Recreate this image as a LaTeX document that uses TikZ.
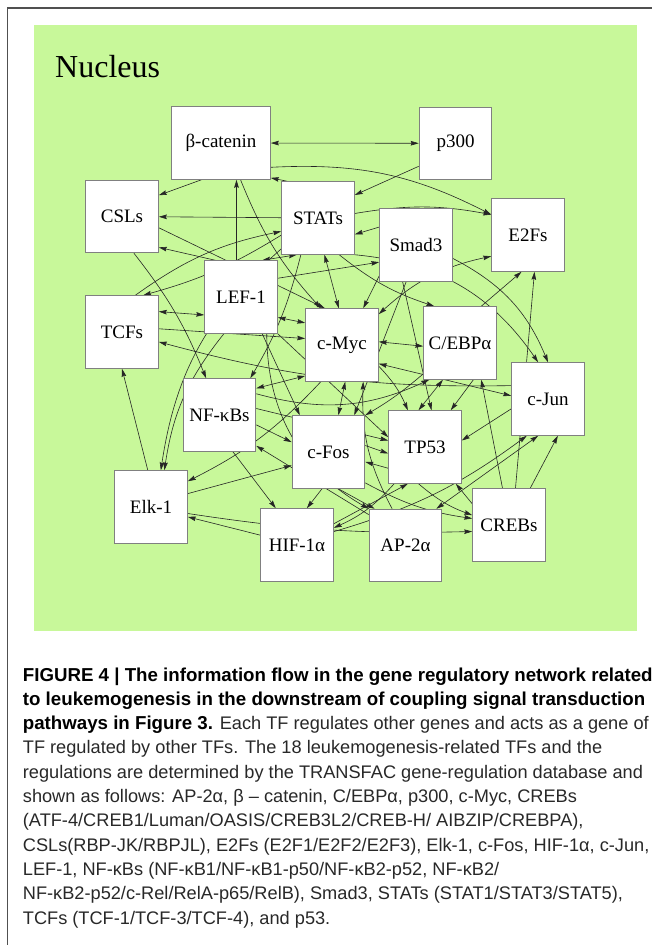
\documentclass[tikz,border=0pt]{standalone}
\usepackage{fontspec}
\setmainfont{Liberation Serif}
\newfontfamily\capfont{Liberation Sans}
\usetikzlibrary{arrows.meta}

\definecolor{nucgreen}{RGB}{200,248,154}
\definecolor{boxgray}{RGB}{128,128,128}
\definecolor{framegray}{RGB}{80,80,80}
\definecolor{capgray}{RGB}{40,40,40}

\pgfdeclarelayer{bg}
\pgfdeclarelayer{links}
\pgfsetlayers{bg,links,main}

\newcommand{\capbold}[1]{{\bfseries\color{black}\fontsize{18.7}{24.3}\selectfont #1}}

\tikzset{
  tf/.style={draw=boxgray, line width=0.9pt, fill=white, minimum width=72.7pt,
    minimum height=72.6pt, inner sep=0pt, font=\fontsize{19}{20}\selectfont},
  reg/.style={draw=black!85, line width=0.6pt, -{Stealth[length=8pt,width=4.6pt,inset=1pt]}},
  dreg/.style={draw=black!85, line width=0.6pt,
    {Stealth[length=8pt,width=4.6pt,inset=1pt]}-{Stealth[length=8pt,width=4.6pt,inset=1pt]}},
}

\begin{document}
\begin{tikzpicture}[x=1pt,y=-1pt]
\useasboundingbox (0,0) rectangle (652,945);

\begin{pgfonlayer}{bg}
\fill[nucgreen] (34,25) rectangle (637,631);
\draw[framegray,line width=1.2pt] (7.5,945) -- (7.5,8) -- (652,8);
\end{pgfonlayer}

\node[anchor=base west, inner sep=0pt, font=\fontsize{32}{32}\selectfont] (nuc) at (55,77) {Nucleus};

% transcription factors
\node[tf, minimum width=98.7pt] (bcat) at (221,143) {β-catenin};
\node[tf] (p300) at (455.5,143.3) {p300};
\node[tf] (csl) at (122,216.5) {CSLs};
\node[tf] (stat) at (318,218) {STATs};
\node[tf] (smad) at (416,245) {Smad3};
\node[tf] (e2f) at (528,235) {E2Fs};
\node[tf] (lef) at (241,297) {LEF-1};
\node[tf] (tcf) at (122,332) {TCFs};
\node[tf] (myc) at (342,345) {c-Myc};
\node[tf] (cebp) at (460,343) {C/EBPα};
\node[tf] (jun) at (548,399) {c-Jun};
\node[tf] (nfkb) at (219.5,415) {NF-κBs};
\node[tf] (fos) at (328.5,452) {c-Fos};
\node[tf] (tp53) at (425,447) {TP53};
\node[tf] (elk) at (151,507) {Elk-1};
\node[tf] (hif) at (297,545) {HIF-1α};
\node[tf] (ap2) at (405.5,545.5) {AP-2α};
\node[tf] (creb) at (509,525) {CREBs};

% regulations
\begin{pgfonlayer}{links}
\draw[dreg] (bcat) -- (p300);
\draw[reg] (bcat.-118) -- (csl.30);
\draw[reg] (bcat.-26) to[bend left=15] (e2f.151);
\draw[reg] (p300.-148) -- (stat.32);
\draw[reg] (stat.130) -- (bcat.-35);
\draw[reg] (stat) -- (csl);
\draw[reg] (stat.7) to[bend left=10] (e2f.151);
\draw[reg] (smad.154) -- (stat.-24);
\draw[reg] (csl.-17) -- (myc.115);
\draw[reg] (bcat.-62) to[bend right=10] (myc.120);
\draw[reg] (lef.97) -- (lef.97 |- bcat.south);
\draw[reg] (csl.-72) to[bend left=8] (nfkb.110);
\draw[reg] (lef.125) -- (csl.-40);
\draw[dreg] (lef.60) -- (stat.-120);
\draw[reg] (stat.-155) to[bend left=8] (tcf.60);
\draw[reg] (tcf.70) to[bend left=12] (stat.-160);
\draw[dreg] (tcf.29) -- (lef.-154);
\draw[dreg] (lef.-29) -- (myc.149);
\draw[reg] (lef.27) -- (smad.-155);
\draw[reg] (lef.-60) -- (fos.128);
\draw[reg] (lef.-45) -- (tp53.165);
\draw[reg] (lef.-55) to[bend right=30] (ap2.135);
\draw[reg] (nfkb.-70) -- (hif.120);
\draw[reg] (nfkb.-15) -- (fos.165);
\draw[dreg] (myc.-140) -- (nfkb.36);
\draw[reg] (stat.-115) to[bend left=8] (nfkb.50);
\draw[reg] (lef.-115) to[bend right=15] (elk.70);
\draw[reg] (stat.-140) to[bend right=20] (elk.75);
\draw[reg] (elk.95) -- (tcf.-90);
\draw[reg] (hif.165) -- (elk.-15);
\draw[reg] (elk.20) -- (fos.-160);
\draw[reg] (myc.-120) to[bend left=10] (elk.35);
\draw[reg] (elk.-10) to[bend right=5] (creb.-170);
\draw[dreg] (myc.5) -- (cebp.-175);
\draw[dreg] (myc.-27) -- (jun.175);
\draw[reg] (tcf.5) -- (myc.170);
\draw[reg] (jun.160) to[bend left=8] (tcf.-15);
\draw[reg] (nfkb.30) to[bend right=20] (cebp.-130);
\draw[dreg] (tp53.100) -- (cebp.-115);
\draw[reg] (cebp.-70) -- (tp53.55);
\draw[reg] (jun.-165) -- (tp53.10);
\draw[reg] (creb.60) -- (jun.-75);
\draw[reg] (hif.20) to[bend right=10] (jun.-120);
\draw[dreg] (ap2.50) -- (jun.-105);
\draw[reg] (creb.150) -- (tp53.-50);
\draw[reg] (tp53.-100) to[bend right=10] (creb.165);
\draw[reg] (hif.30) -- (tp53.-115);
\draw[reg] (tp53.-130) to[bend left=12] (hif.25);
\draw[dreg] (myc.-85) -- (fos.75);
\draw[reg] (ap2.110) to[bend left=15] (myc.-60);
\draw[reg] (myc.-30) to[bend left=10] (tp53.115);
\draw[reg] (smad.-105) -- (fos.55);
\draw[reg] (smad.-140) -- (myc.60);
\draw[dreg] (myc.40) to[bend left=15] (e2f.-150);
\draw[reg] (cebp.60) -- (e2f.-100);
\draw[reg] (creb.80) -- (e2f.-80);
\draw[reg] (creb.100) -- (cebp.-60);
\draw[reg] (stat.-60) to[bend right=10] (cebp.125);
\draw[reg] (stat.-45) to[bend left=25] (jun.105);
\draw[reg] (smad.-20) to[bend left=20] (jun.90);
\draw[reg] (nfkb.10) -- (tp53.170);
\draw[reg] (fos.10) -- (tp53.-170);
\draw[reg] (tp53.-150) -- (fos.-15);
\draw[reg] (fos.-100) -- (hif.75);
\draw[reg] (fos.-75) -- (ap2.130);
\draw[reg] (ap2.140) -- (nfkb.-40);
\draw[reg] (fos.-40) to[bend right=10] (creb.170);
\draw[reg] (smad.-110) -- (tp53.80);
\draw[dreg] (stat.-80) -- (myc.95);
\draw[reg] (cebp.-140) to[bend left=5] (fos.45);
\end{pgfonlayer}

% caption (anchor is the baseline of its last line)
\node[anchor=base west, align=left, inner sep=0pt, text=capgray,
  font=\capfont\fontsize{18.2}{24.3}\selectfont] (cap) at (22.7,924)
{\capbold{FIGURE 4 | The information flow in the gene regulatory network related}\\
\capbold{to leukemogenesis in the downstream of coupling signal transduction}\\
\capbold{pathways in Figure 3.} Each TF regulates other genes and acts as a gene of\\
TF regulated by other TFs. The 18 leukemogenesis-related TFs and the\\
regulations are determined by the TRANSFAC gene-regulation database and\\
shown as follows: AP-2α, β – catenin, C/EBPα, p300, c-Myc, CREBs\\
(ATF-4/CREB1/Luman/OASIS/CREB3L2/CREB-H/ AIBZIP/CREBPA),\\
CSLs(RBP-JK/RBPJL), E2Fs (E2F1/E2F2/E2F3), Elk-1, c-Fos, HIF-1α, c-Jun,\\
LEF-1, NF-κBs (NF-κB1/NF-κB1-p50/NF-κB2-p52, NF-κB2/\\
NF-κB2-p52/c-Rel/RelA-p65/RelB), Smad3, STATs (STAT1/STAT3/STAT5),\\
TCFs (TCF-1/TCF-3/TCF-4), and p53.};
\end{tikzpicture}
\end{document}
